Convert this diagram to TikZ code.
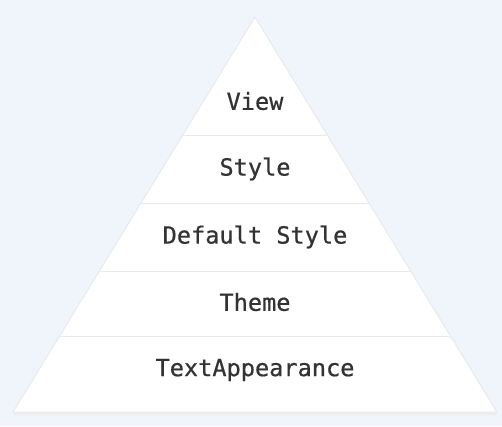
\documentclass[tikz,border=0pt]{standalone}
\usepackage{fontspec}
\setmonofont[FakeBold=0.6]{DejaVu Sans Mono}
\definecolor{bg}{HTML}{F0F5FC}
\definecolor{edge}{HTML}{E8EAEE}
\definecolor{txt}{HTML}{333333}
\begin{document}
\begin{tikzpicture}[x=1pt,y=-1pt,
  lbl/.style={text=txt,font=\ttfamily\fontsize{23.6}{28}\selectfont,inner sep=0pt,anchor=center},
  sep/.style={draw=edge,line width=1pt}]
\fill[bg] (0,0) rectangle (502,426);
\useasboundingbox (0,0) rectangle (502,426);
\coordinate (apex) at (255,17);
\coordinate (bl) at (13,412);
\coordinate (br) at (497,412);
% shadow
\fill[black!7] (13,412) -- (497,412) -- (496,415) -- (14,415) -- cycle;
\filldraw[fill=white,draw=edge,line width=1pt,line join=round] (apex) -- (br) -- (bl) -- cycle;
\foreach \y/\n in {135/a,203/b,271/c,336/d}{
  \coordinate (L\n) at ({255-0.61266*(\y-17)},\y);
  \coordinate (R\n) at ({255+0.61266*(\y-17)},\y);
  \draw[sep] (L\n) -- (R\n);
}
\node[lbl] (view) at (255,101) {View};
\node[lbl] (style) at (255,169) {Style};
\node[lbl] (dstyle) at (255,237) {Default Style};
\node[lbl] (theme) at (255,302) {Theme};
\node[lbl] (tapp) at (255,370) {TextAppearance};
\end{tikzpicture}
\end{document}
